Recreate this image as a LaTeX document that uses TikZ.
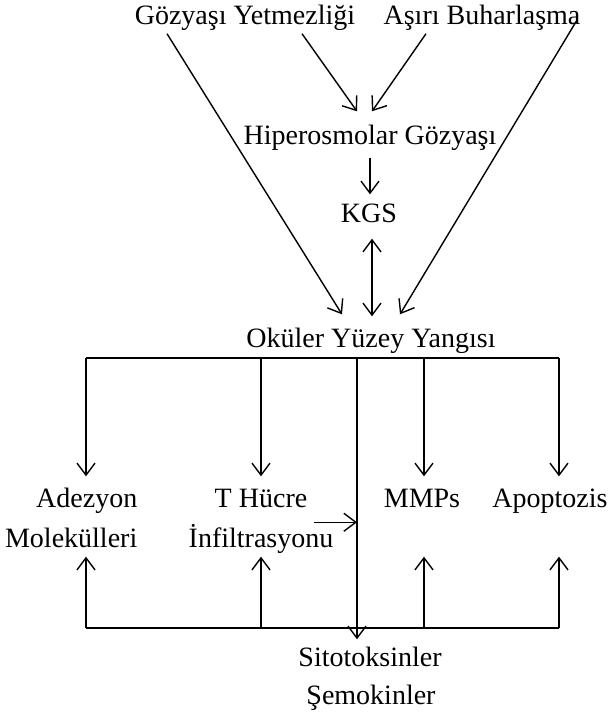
\documentclass[tikz,border=0pt]{standalone}
\usepackage{fontspec}
\setmainfont{Liberation Serif}
\usetikzlibrary{arrows.meta,calc}

\begin{document}
\begin{tikzpicture}[x=0.5pt, y=-0.5pt, line width=0.7pt,
    >={Straight Barb[length=6pt,width=9pt]},
    lbl/.style={font=\fontsize{14}{16}\selectfont, inner sep=0pt, text height=12pt, text depth=3pt}]
    \useasboundingbox (0,0) rectangle (611,714);

    % Causes
    \node[lbl] (gy) at (245,15) {Gözyaşı Yetmezliği};
    \node[lbl] (ab) at (482,15) {Aşırı Buharlaşma};
    \node[lbl] (hip) at (370,135) {Hiperosmolar Gözyaşı};
    \node[lbl] (kgs) at (369,213) {KGS};
    \node[lbl] (oyy) at (371,338) {Oküler Yüzey Yangısı};

    \draw[->] ($(gy.south)+(57,3)$) -- ($(hip.north)+(-13,-8)$);
    \draw[->] ($(ab.south)+(-56,3)$) -- ($(hip.north)+(2,-8)$);
    \draw[->] ($(gy.south)+(-78,3)$) -- ($(oyy.north)+(-29,-8)$); % long left
    \draw[->] ($(ab.east)+(-4,5)$) -- ($(oyy.north)+(29,-8)$); % long right
    \draw[->] ($(hip.south)+(0,7)$) -- ($(kgs.north)+(1,-3)$);
    \draw[<->] ($(kgs.south)+(3,10)$) -- ($(oyy.north)+(1,-6)$);

    % Branch points
    \coordinate (t1) at (86,358);
    \coordinate (t2) at (261,358);
    \coordinate (tm) at (357,358);
    \coordinate (t3) at (424,358);
    \coordinate (t4) at (559,358);
    \coordinate (b1) at (86,628);
    \coordinate (b2) at (261,628);
    \coordinate (b3) at (424,628);
    \coordinate (b4) at (559,628);

    % Effects
    \node[lbl, anchor=east] (adA) at (138,498) {Adezyon};
    \node[lbl, anchor=east] (adB) at (138,538) {Molekülleri};
    \node[lbl] (thA) at (261,498) {T Hücre};
    \node[lbl] (thB) at (261,538) {İnfiltrasyonu};
    \node[lbl] (mmp) at (422,498) {MMPs};
    \node[lbl] (apo) at (550,498) {Apoptozis};
    \node[lbl] (sito) at (370,657) {Sitotoksinler};
    \node[lbl] (semo) at (371,695) {Şemokinler};

    \draw (t1) -- (t4);
    \draw (b1) -- (b4);
    \foreach \t/\n in {t1/adA, t2/thA, t3/mmp, t4/apo}
        \draw[->, shorten >=3pt] (\t) -- (\t |- \n.north);
    \foreach \b/\n in {b1/adB, b2/thB, b3/adB, b4/adB}
        \draw[->, shorten >=1.5pt] (\b) -- (\b |- \n.south);

    \draw[->, shorten >=1pt] (tm) -- (tm |- sito.north);
    \draw[->] ([xshift=-10pt]thB.north east) -- (thB.north east -| tm);

\end{tikzpicture}
\end{document}
